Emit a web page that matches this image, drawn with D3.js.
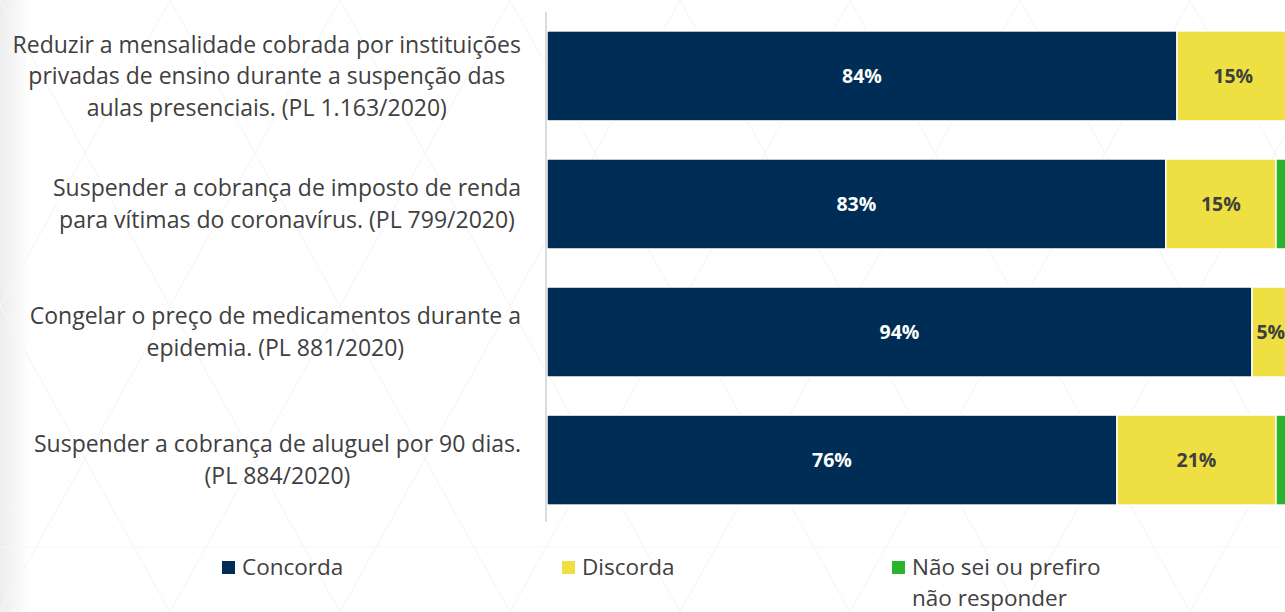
<!DOCTYPE html>
<html>
<head>
<meta charset="utf-8">
<script src="https://cdn.jsdelivr.net/npm/d3@7"></script>
<style>
  body { margin: 0; background: #ffffff; overflow: hidden; }
  svg { display: block; }
</style>
</head>
<body>
<script>
var categories = [
  ["Reduzir a mensalidade cobrada por instituições", "privadas de ensino durante a suspenção das", "aulas presenciais. (PL 1.163/2020)"],
  ["Suspender a cobrança de  imposto de renda", "para vítimas do coronavírus. (PL 799/2020)"],
  ["Congelar o preço de medicamentos durante a", "epidemia. (PL 881/2020)"],
  ["Suspender a cobrança de aluguel por 90 dias.", "(PL 884/2020)"]
];
var concorda = [84, 82.5, 94, 76];
var discorda = [15, 14.7, 5, 21.2];
var naoSei = [1, 2.8, 1, 2.8];
var seriesNames = ["Concorda", "Discorda", "Não sei ou prefiro não responder"];
var seriesColors = ["#002d55", "#eedf42", "#2ab42e"];
var labelColors = ["#ffffff", "#3f3f3f", null];

var width = 1285, height = 612;

var svg = d3.select("body").append("svg").attr("width", width).attr("height", height);

// faint background pattern
var defs = svg.append("defs");
var grad = defs.append("linearGradient").attr("id", "leftShade");
grad.append("stop").attr("offset", "0%").attr("stop-color", "#ededed");
grad.append("stop").attr("offset", "100%").attr("stop-color", "#ffffff");
svg.append("rect").attr("width", 30).attr("height", height).attr("fill", "url(#leftShade)");

var bg = svg.append("g").attr("stroke", "#f6f6f6").attr("stroke-width", 1.2).attr("fill", "none");
for (var k = -6; k < 12; k++) {
  var x0 = k * 170;
  bg.append("line").attr("x1", x0).attr("y1", 0).attr("x2", x0 + 340).attr("y2", height);
  bg.append("line").attr("x1", x0 + 340).attr("y1", 0).attr("x2", x0).attr("y2", height);
}
bg.append("line").attr("x1", 0).attr("y1", 547).attr("x2", width).attr("y2", 547).attr("stroke", "#f7f7f7");

var idx = d3.range(categories.length);

var x = d3.scaleLinear().domain([0, 100]).range([547, 1297]);
var y = d3.scaleBand().domain(idx).range([12, 524]).paddingInner(0.297).paddingOuter(0.148);

// stack the series
var rows = idx.map(function(i) {
  return { i: i, c: concorda[i], d: discorda[i], n: naoSei[i] };
});
var stack = d3.stack().keys(["c", "d", "n"]);
var layers = stack(rows);

var bars = svg.append("g");
layers.forEach(function(layer, s) {
  var g = bars.append("g");
  g.selectAll("rect").data(layer).enter().append("rect")
    .attr("x", function(d) { return x(d[0]); })
    .attr("y", function(d) { return y(d.data.i); })
    .attr("width", function(d) { return x(d[1]) - x(d[0]); })
    .attr("height", y.bandwidth())
    .attr("fill", seriesColors[s])
    .attr("stroke", "#ffffff")
    .attr("stroke-width", 1.5);
  // the reference shows no labels on the thin green pieces
  if (!labelColors[s]) return;
  g.selectAll("text").data(layer).enter().append("text")
    .attr("x", function(d) { return (x(d[0]) + x(d[1])) / 2; })
    .attr("y", function(d) { return y(d.data.i) + y.bandwidth() / 2; })
    .attr("dy", "0.35em")
    .attr("text-anchor", "middle")
    .style("font-family", "'Open Sans', sans-serif")
    .style("font-weight", "bold")
    .style("font-size", "19.5px")
    .style("fill", labelColors[s])
    .text(function(d) { return Math.round(d[1] - d[0]) + "%"; });
});

// axis line
svg.append("line").attr("x1", 546).attr("x2", 546).attr("y1", 12).attr("y2", 522)
  .attr("stroke", "#d0d0d0").attr("stroke-width", 1.5);

// category labels: centred block, longest line flush at the right
var lineH = 31.5;
var labels = svg.append("g")
  .style("font-family", "'Open Sans', sans-serif")
  .style("font-size", "23px")
  .style("fill", "#404040");
categories.forEach(function(lines, i) {
  var t = labels.append("text").attr("text-anchor", "middle");
  var cy = y(i) + y.bandwidth() / 2;
  var top = cy - (lines.length - 1) * lineH / 2;
  var spans = lines.map(function(l, j) {
    return t.append("tspan").attr("y", top + j * lineH).attr("dy", "0.35em").text(l);
  });
  var maxW = d3.max(spans, function(s) { return s.node().getComputedTextLength(); });
  spans.forEach(function(s) { s.attr("x", 521 - maxW / 2); });
});

// legend
var legX = [222, 562, 892];
var legend = svg.append("g")
  .style("font-family", "'Open Sans', sans-serif")
  .style("font-size", "22.5px")
  .style("fill", "#404040");
seriesNames.forEach(function(name, s) {
  legend.append("rect").attr("x", legX[s]).attr("y", 561).attr("width", 13).attr("height", 13)
    .attr("fill", seriesColors[s]);
  var t = legend.append("text").attr("x", legX[s] + 20).attr("y", 567).attr("dy", "0.35em");
  if (s == 2) {
    t.append("tspan").attr("x", legX[s] + 20).text("Não sei ou prefiro");
    t.append("tspan").attr("x", legX[s] + 20).attr("dy", "31px").text("não responder");
  } else {
    t.text(name);
  }
});
</script>
</body>
</html>
